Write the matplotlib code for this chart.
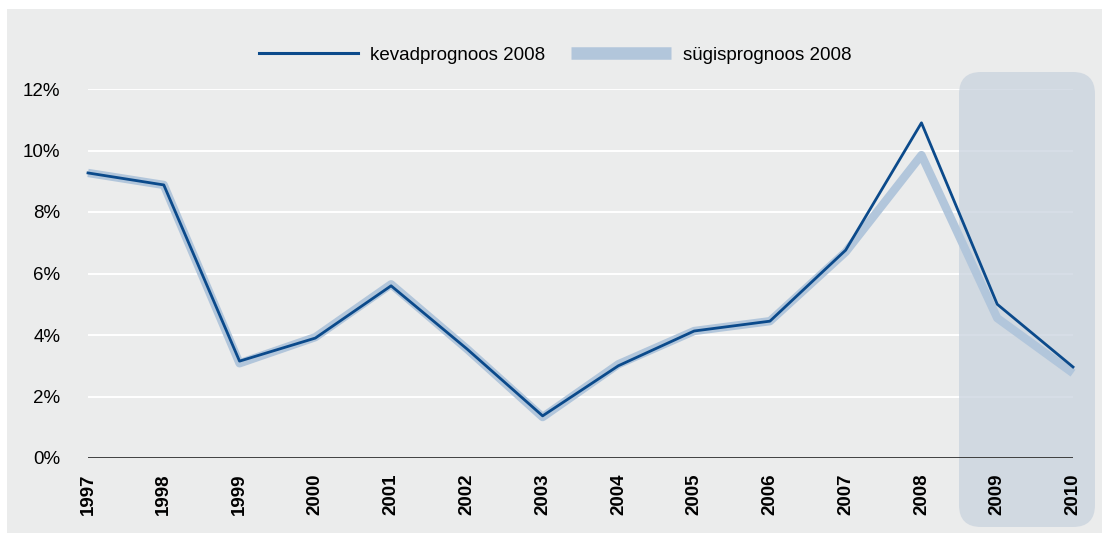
import matplotlib
matplotlib.use("Agg")
import matplotlib.pyplot as plt
from matplotlib.patches import Rectangle, FancyBboxPatch
from matplotlib.lines import Line2D

plt.rcParams['font.family'] = ['Liberation Sans', 'DejaVu Sans']

years = [1997, 1998, 1999, 2000, 2001, 2002, 2003, 2004, 2005, 2006, 2007, 2008, 2009, 2010]
kevad = [9.27, 8.88, 3.15, 3.90, 5.60, 3.55, 1.37, 3.00, 4.13, 4.45, 6.76, 10.90, 5.00, 2.96]
sygis = [9.27, 8.88, 3.08, 3.93, 5.65, 3.55, 1.33, 3.05, 4.13, 4.45, 6.70, 9.85, 4.55, 2.76]
yticks = [0, 2, 4, 6, 8, 10, 12]
labels = ['kevadprognoos 2008', 'sügisprognoos 2008']

dark = '#0b4a8b'
light = '#b2c6db'
bg = '#ebecec'

fig = plt.figure(figsize=(11.02, 5.33), dpi=100)
fig.patches.append(Rectangle((7 / 1102, 0), 1, (533 - 9) / 533, transform=fig.transFigure,
                             facecolor=bg, edgecolor='none', zorder=-5))

ax = fig.add_axes([88 / 1102, 75 / 533, 985 / 1102, 369 / 533])
ax.set_facecolor('none')
ax.set_xlim(1997, 2010)
ax.set_ylim(0, 12)

# forecast period shading (rounded box, in inches so corners stay round)
box = FancyBboxPatch((9.59, 0.06), 1.36, 4.55, boxstyle='round,pad=0,rounding_size=0.22',
                     transform=fig.dpi_scale_trans, facecolor='#c9d3de', edgecolor='none',
                     alpha=0.75, clip_on=False, zorder=1.5)
ax.add_patch(box)

for t in yticks[1:]:
    ax.axhline(t, color='white', lw=1.4, zorder=1)
ax.axhline(0, color='#333333', lw=1.3, zorder=3)

ax.plot(years, sygis, color=light, lw=6, solid_capstyle='butt', clip_on=False, zorder=2)
ax.plot(years, kevad, color=dark, lw=2, clip_on=False, zorder=4)

ax.set_yticks(yticks)
ax.set_yticklabels([f'{t}%' for t in yticks], fontsize=13.5)
ax.set_xticks(years)
ax.set_xticklabels([str(y) for y in years], rotation=90, fontsize=13.5, fontweight='bold')
ax.tick_params(length=0)
ax.tick_params(axis='y', pad=20)
ax.tick_params(axis='x', pad=11)
for s in ax.spines.values():
    s.set_visible(False)

handles = [Line2D([], [], color=dark, lw=2.2),
           Line2D([], [], color=light, lw=9, solid_capstyle='butt')]
fig.legend(handles, labels, loc='center', bbox_to_anchor=(555 / 1102, 1 - 55 / 533),
           ncol=2, frameon=False, fontsize=13.5, handlelength=5.3, columnspacing=1.4,
           handletextpad=0.65)

fig.savefig('out.png', dpi=100)
